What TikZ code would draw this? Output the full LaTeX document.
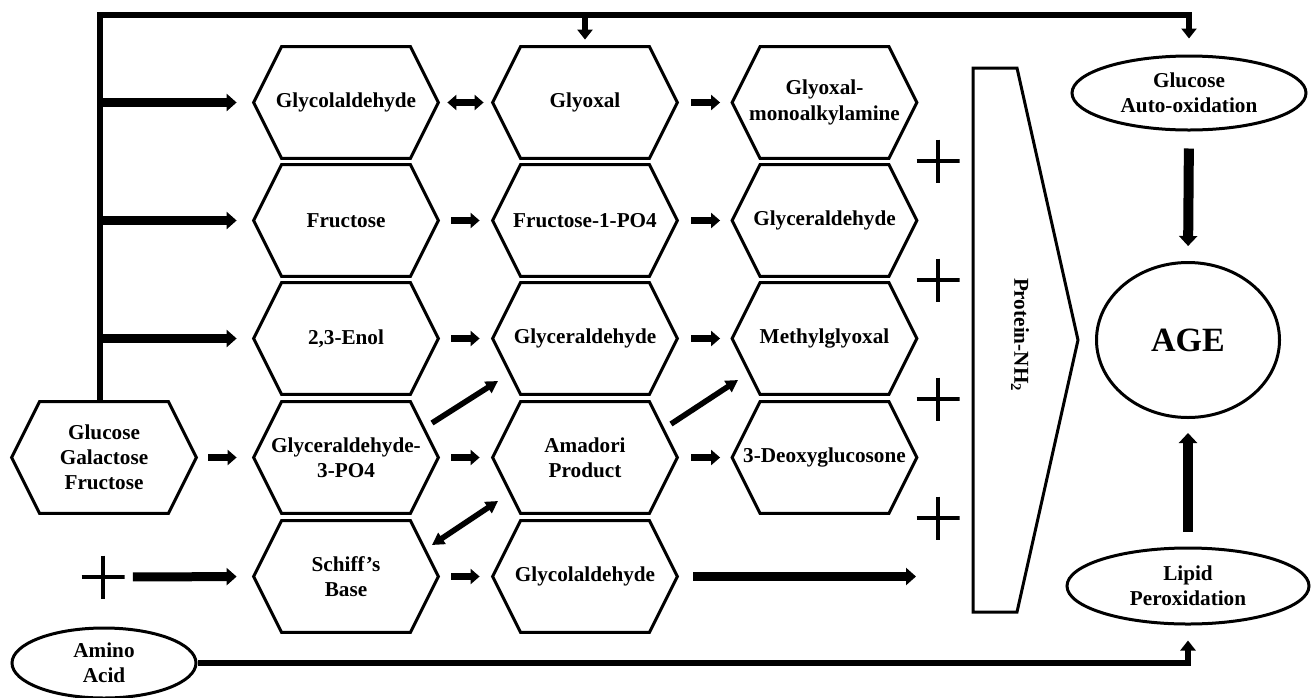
\documentclass[tikz,border=0pt]{standalone}
\usepackage{fontspec}
\setmainfont{Liberation Serif}
\usetikzlibrary{arrows.meta,calc,shapes.geometric}
\begin{document}
\begin{tikzpicture}[x=0.5pt,y=-0.5pt,
  every node/.style={font=\fontsize{10.6}{12.6}\selectfont\bfseries},
  hexnode/.style={minimum width=92pt,minimum height=55.5pt,inner sep=0pt,align=center},
  hexline/.style={line width=1.5pt,line join=miter},
  ellnode/.style={ellipse,draw,line width=1.5pt,inner sep=0pt,align=center},
  plusnode/.style={minimum size=21.5pt,inner sep=0pt,
    path picture={\draw[line width=2pt] (path picture bounding box.north) -- (path picture bounding box.south)
      (path picture bounding box.west) -- (path picture bounding box.east);}},
  blk/.style={line width=3.5pt,-{Triangle[width=7.5pt,length=4.5pt]}},
  blkdbl/.style={line width=3.5pt,{Triangle[width=7.5pt,length=4.5pt]}-{Triangle[width=7.5pt,length=4.5pt]}},
  branch/.style={line width=4.5pt,-{Triangle[width=8.5pt,length=5pt]}},
  diag/.style={line width=2.8pt,-{Triangle[width=6.5pt,length=6pt]}},
  diagdbl/.style={line width=2.8pt,{Triangle[width=6.5pt,length=6pt]}-{Triangle[width=6.5pt,length=6pt]}},
  vert/.style={line width=5pt,-{Triangle[width=9pt,length=5pt]}},
  topl/.style={line width=3pt,line join=miter},
  toparr/.style={line width=3pt,line join=miter,-{Triangle[width=7.5pt,length=5pt]}}
]
\useasboundingbox (0,0) rectangle (1312,697);

% hexagon nodes
\node[hexnode] (glycolA) at (346,102.5) {Glycolaldehyde};
\node[hexnode] (glyoxal) at (585,102.5) {Glyoxal};
\node[hexnode] (gma) at (824.5,102.5) {Glyoxal-\\monoalkylamine};
\node[hexnode] (fruc) at (346,220.5) {Fructose};
\node[hexnode] (fop) at (585,220.5) {Fructose-1-PO4};
\node[hexnode] (glycB) at (824.5,220.5) {Glyceraldehyde};
\node[hexnode] (enol) at (346,338.5) {2,3-Enol};
\node[hexnode] (glycA) at (585,338.5) {Glyceraldehyde};
\node[hexnode] (mgo) at (824.5,338.5) {Methylglyoxal};
\node[hexnode] (gtp) at (346,457.5) {Glyceraldehyde-\\3-PO4};
\node[hexnode] (amadori) at (585,457.5) {Amadori\\Product};
\node[hexnode] (dg) at (824.5,457.5) {3-Deoxyglucosone};
\node[hexnode] (schiff) at (346,576.5) {Schiff’s\\Base};
\node[hexnode] (glycolB) at (585,576.5) {Glycolaldehyde};
\node[hexnode] (glu) at (104,457.5) {Glucose\\Galactose\\Fructose};

\foreach \n in {glycolA,glyoxal,gma,fruc,fop,glycB,enol,glycA,mgo,gtp,amadori,dg,schiff,glycolB,glu}
  \draw[hexline] (\n.west) -- ([xshift=14pt]\n.north west) -- ([xshift=-14pt]\n.north east)
    -- (\n.east) -- ([xshift=-14pt]\n.south east) -- ([xshift=14pt]\n.south west) -- cycle;

% ellipses
\node[ellnode,minimum width=117pt,minimum height=37pt] (auto) at (1189,93) {Glucose\\Auto-oxidation};
\node[ellnode,minimum width=91.5pt,minimum height=77.5pt,font=\fontsize{17}{20}\selectfont\bfseries] (age) at (1188,340) {AGE};
\node[ellnode,minimum width=121pt,minimum height=38pt] (lipid) at (1188,586) {Lipid\\Peroxidation};
\node[ellnode,minimum width=92pt,minimum height=35pt] (amino) at (104,663) {Amino\\Acid};

% protein box
\draw[hexline] (973,68) -- (1017,68) -- (1078,340) -- (1017,612) -- (973,612) -- cycle;
\node[rotate=-90] (prot) at (1020,335) {Protein-NH\textsubscript{2}};

% plus signs
\node[plusnode] (plusL) at (103,577) {};
\node[plusnode] (p1) at (938,161) {};
\node[plusnode] (p2) at (938,280) {};
\node[plusnode] (p3) at (938,399) {};
\node[plusnode] (p4) at (938,518) {};

% top line
\coordinate (topy) at (0,15);
\coordinate (jn) at ([xshift=-2pt]glu.north);
\draw[toparr,shorten >=8pt] (jn) -- (jn |- topy) -| (auto.north);
\draw[toparr,shorten >=3.5pt] (glyoxal.north |- topy) -- (glyoxal.north);

% branch arrows
\foreach \n in {glycolA,fruc,enol}
  \draw[branch,shorten >=8.5pt] (jn |- \n.west) -- (\n.west);

% short arrows
\draw[blkdbl,shorten <=4.5pt,shorten >=4.5pt] (glycolA.east) -- (glyoxal.west);
\draw[blk,shorten <=7pt,shorten >=6pt] (glyoxal.east) -- (gma.west);
\draw[blk,shorten <=6.5pt,shorten >=6.5pt] (fruc.east) -- (fop.west);
\draw[blk,shorten <=7pt,shorten >=6pt] (fop.east) -- (glycB.west);
\draw[blk,shorten <=6.5pt,shorten >=6.5pt] (enol.east) -- (glycA.west);
\draw[blk,shorten <=7pt,shorten >=6pt] (glycA.east) -- (mgo.west);
\draw[blk,shorten <=6.5pt,shorten >=6.5pt] (gtp.east) -- (amadori.west);
\draw[blk,shorten <=7pt,shorten >=6pt] (amadori.east) -- (dg.west);
\draw[blk,shorten <=6.5pt,shorten >=6.5pt] (schiff.east) -- (glycolB.west);
\draw[blk,shorten <=6pt,shorten >=8.5pt] (glu.east) -- (gtp.west);
\draw[branch,shorten <=4pt,shorten >=8.5pt] (plusL.east) -- (schiff.west);
\coordinate (lend) at (916,576.5);
\draw[branch,shorten <=8pt] (glycolB.east) -- (lend);

% diagonal arrows
\draw[diag] ($(gtp.center)+(86,-34.5)$) -- ($(glycA.center)+(-87,42.5)$);
\draw[diag] ($(amadori.center)+(86,-33.5)$) -- ($(mgo.center)+(-86.5,41.5)$);
\draw[diagdbl] ($(schiff.center)+(86,-31.5)$) -- ($(amadori.center)+(-87,43.5)$);

% right side arrows
\draw[vert,shorten <=8.5pt,shorten >=7.5pt] (auto.south) -- (age.north);
\draw[vert,shorten <=7.5pt,shorten >=7pt] (lipid.north) -- (age.south);
\draw[toparr,shorten >=7.5pt] (amino.east) -| (lipid.south);
\end{tikzpicture}
\end{document}
